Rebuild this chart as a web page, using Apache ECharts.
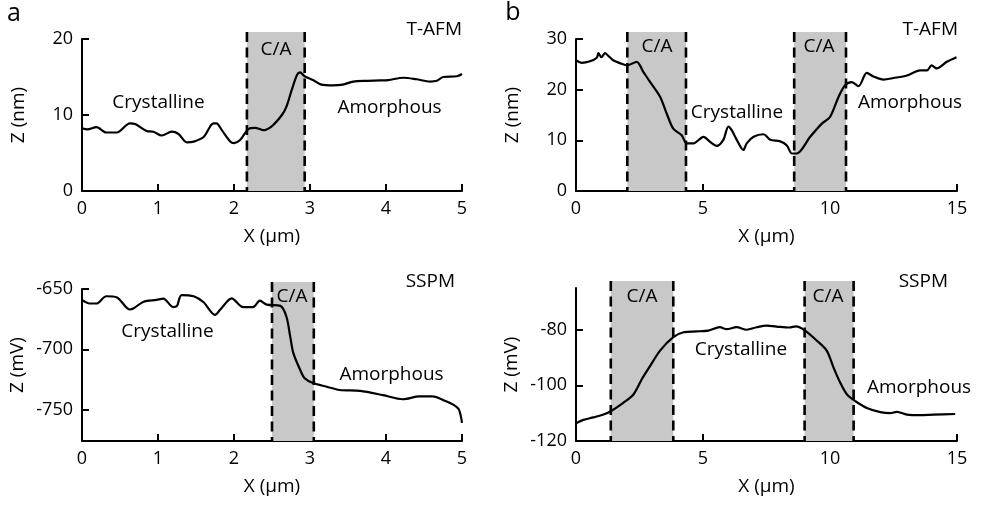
<!DOCTYPE html>
<html>
<head>
<meta charset="utf-8">
<script src="https://cdn.jsdelivr.net/npm/echarts@6/dist/echarts.min.js"></script>
<style>
html,body{margin:0;padding:0;background:#fff;}
#chart{width:982px;height:507px;}
</style>
</head>
<body>
<div id="chart"></div>
<script>
// ---------- data ----------
// Panel a, T-AFM (X in µm, Z in nm)
const aTafmX = [0,0.07,0.19,0.32,0.46,0.63,0.70,0.85,0.94,1.05,1.18,1.27,1.38,1.47,1.60,1.73,1.77,1.84,1.95,2.00,2.08,2.19,2.28,2.34,2.38,2.50,2.63,2.69,2.76,2.83,2.87,2.93,3.04,3.15,3.30,3.43,3.57,3.75,3.92,4.03,4.23,4.40,4.58,4.67,4.75,4.93,5.00];
const aTafmZ = [8.25,8.1,8.4,7.7,7.7,8.9,8.8,7.9,7.8,7.3,7.8,7.5,6.4,6.5,7.1,8.9,8.9,8.0,6.5,6.3,6.7,8.15,8.3,8.15,8.0,8.55,10.0,11.1,13.3,15.3,15.6,15.1,14.6,14.0,13.9,14.0,14.4,14.5,14.55,14.6,14.9,14.7,14.4,14.5,15.0,15.1,15.4];
// Panel b, T-AFM
const bTafmX = [0,0.22,0.55,0.82,0.88,1.0,1.14,1.27,1.47,1.80,2.02,2.39,2.65,2.92,3.31,3.57,3.83,4.16,4.36,4.62,5.02,5.28,5.54,5.80,6.00,6.13,6.33,6.59,6.72,6.99,7.38,7.65,8.04,8.30,8.50,8.69,9.22,9.68,10.0,10.34,10.60,10.86,11.12,11.45,11.71,12.11,12.50,13.03,13.55,13.82,14.0,14.2,14.6,14.98];
const bTafmZ = [25.8,25.3,25.6,26.3,27.2,26.4,27.2,26.7,25.8,25.1,24.8,25.5,23.5,21.5,18.6,15.3,12.3,11.0,9.4,9.4,10.7,9.7,8.9,10.1,12.7,12.0,10.1,8.1,9.4,10.7,11.2,10.1,9.8,9.0,7.4,7.4,10.7,13.3,14.6,18.6,20.9,21.5,20.7,23.3,22.6,22.0,22.3,22.8,23.8,23.8,24.8,24.2,25.5,26.4];
// Panel a, SSPM (Z in mV)
const aSspmX = [0,0.10,0.19,0.32,0.46,0.63,0.68,0.81,0.98,1.07,1.20,1.25,1.31,1.47,1.60,1.75,1.82,1.97,2.12,2.25,2.34,2.43,2.61,2.69,2.74,2.78,2.87,2.93,3.04,3.22,3.39,3.66,3.96,4.22,4.44,4.61,4.79,4.89,4.96,5.00];
const aSspmZ = [-659,-662,-662,-656,-657,-667,-666,-660.5,-659,-658,-665,-664,-655,-656,-661,-671.5,-667,-657.7,-665,-665,-659.7,-663,-664,-673,-689.5,-703,-717,-724,-728,-731,-733.7,-734.5,-738,-741.4,-739,-739,-743,-746,-750,-761];
// Panel b, SSPM
const bSspmX = [0,0.29,0.68,1.08,1.37,1.86,2.26,2.59,2.92,3.31,3.83,4.23,4.75,5.21,5.66,5.93,6.32,6.72,7.11,7.50,8.03,8.40,8.66,9.02,9.48,9.87,10.14,10.40,10.67,11.0,11.45,11.98,12.37,12.63,13.03,13.55,14.08,14.93];
const bSspmZ = [-113.6,-112.4,-111.5,-110.5,-109.3,-106.3,-103.3,-97.8,-93,-87.5,-82.7,-80.9,-80.6,-80.3,-79.1,-79.8,-79.1,-80,-79.1,-78.5,-79,-79.2,-78.8,-80.3,-83.9,-87.5,-93.6,-99,-103.3,-105.7,-108.1,-109.6,-110,-109.5,-110.5,-110.7,-110.5,-110.3];
// C/A transition regions [start, end] in µm
const aTafmCA = [[2.17, 2.93]];
const bTafmCA = [[2.02, 4.33], [8.59, 10.63]];
const aSspmCA = [[2.5, 3.05]];
const bSspmCA = [[1.37, 3.83], [9.0, 10.93]];
// tick values
const aXTicks = [0,1,2,3,4,5];
const bXTicks = [0,5,10,15];
const aTafmYTicks = [0,10,20];
const bTafmYTicks = [0,10,20,30];
const aSspmYTicks = [-750,-700,-650];
const bSspmYTicks = [-120,-100,-80];

// ---------- chart ----------
const FONT = '"Open Sans"';
const chart = echarts.init(document.getElementById('chart'), null, {renderer: 'canvas'});
const zip = (xs, ys) => xs.map((x, i) => [x, ys[i]]);

const grids = [
  {left: 82, top: 39, width: 380, height: 152},
  {left: 576, top: 39, width: 381, height: 152},
  {left: 82, top: 289, width: 380, height: 152},
  {left: 576, top: 288, width: 381, height: 153}
];
const axisCommon = {
  axisLine: {show: true, onZero: false, lineStyle: {color: '#000', width: 2}},
  axisTick: {show: true, inside: true, length: 7, lineStyle: {color: '#000', width: 2}},
  axisLabel: {color: '#000', fontFamily: FONT, fontSize: 18},
  splitLine: {show: false},
  nameTextStyle: {color: '#000', fontFamily: FONT, fontSize: 19}
};
function xAxis(gi, max, ticks) {
  return Object.assign({}, axisCommon, {
    type: 'value', gridIndex: gi, min: 0, max: max,
    name: 'X (μm)', nameLocation: 'middle', nameGap: 36,
    axisTick: Object.assign({}, axisCommon.axisTick, {customValues: ticks}),
    axisLabel: Object.assign({}, axisCommon.axisLabel, {customValues: ticks, margin: 9})
  });
}
function yAxis(gi, min, max, ticks, name, gap) {
  return Object.assign({}, axisCommon, {
    type: 'value', gridIndex: gi, min: min, max: max,
    name: name, nameLocation: 'middle', nameGap: gap, nameRotate: 90,
    axisTick: Object.assign({}, axisCommon.axisTick, {customValues: ticks}),
    axisLabel: Object.assign({}, axisCommon.axisLabel, {customValues: ticks, margin: 9})
  });
}
function lineSeries(i, xs, ys) {
  return {
    type: 'line', xAxisIndex: i, yAxisIndex: i, data: zip(xs, ys),
    showSymbol: false, smooth: 0.3, z: 5,
    lineStyle: {color: '#000', width: 2.2}
  };
}
function shadeSeries(i, regions) {
  return {
    type: 'custom', xAxisIndex: i, yAxisIndex: i, data: regions, clip: false, z: 2,
    encode: {x: [0, 1]},
    renderItem: function (params, api) {
      const cs = params.coordSys;
      const x0 = api.coord([api.value(0), 0])[0];
      const x1 = api.coord([api.value(1), 0])[0];
      const top = cs.y - 7;
      const bottom = cs.y + cs.height;
      const dash = {stroke: '#000', lineWidth: 2.6, lineDash: [10, 5.5]};
      return {
        type: 'group',
        children: [
          {type: 'rect', shape: {x: x0, y: top, width: x1 - x0, height: bottom - top}, style: {fill: '#c8c8c8'}},
          {type: 'line', shape: {x1: x0, y1: top, x2: x0, y2: bottom}, style: dash},
          {type: 'line', shape: {x1: x1, y1: top, x2: x1, y2: bottom}, style: dash}
        ]
      };
    }
  };
}
function txt(s, x, y, align, size) {
  return {type: 'text', x: x, y: y, z: 20,
    style: {text: s, fill: '#000', font: (size || 19) + 'px ' + FONT, align: align || 'center', verticalAlign: 'middle'}};
}

const option = {
  animation: false,
  backgroundColor: '#fff',
  grid: grids,
  xAxis: [xAxis(0, 5, aXTicks), xAxis(1, 15, bXTicks), xAxis(2, 5, aXTicks), xAxis(3, 15, bXTicks)],
  yAxis: [
    yAxis(0, 0, 20, aTafmYTicks, 'Z (nm)', 54),
    yAxis(1, 0, 30, bTafmYTicks, 'Z (nm)', 54),
    yAxis(2, -776, -650, aSspmYTicks, 'Z (mV)', 55),
    yAxis(3, -120, -65, bSspmYTicks, 'Z (mV)', 55)
  ],
  series: [
    shadeSeries(0, aTafmCA), shadeSeries(1, bTafmCA), shadeSeries(2, aSspmCA), shadeSeries(3, bSspmCA),
    lineSeries(0, aTafmX, aTafmZ), lineSeries(1, bTafmX, bTafmZ), lineSeries(2, aSspmX, aSspmZ), lineSeries(3, bSspmX, bSspmZ)
  ],
  graphic: [
    txt('a', 14, 14, 'center', 25), txt('b', 513, 13, 'center', 25),
    txt('T-AFM', 462, 30, 'right'), txt('C/A', 276, 50),
    txt('Crystalline', 158.5, 103), txt('Amorphous', 389.5, 108),
    txt('T-AFM', 958, 30, 'right'), txt('C/A', 657, 47), txt('C/A', 819, 47),
    txt('Crystalline', 737, 113), txt('Amorphous', 910, 103),
    txt('SSPM', 455, 282, 'right'), txt('C/A', 292, 297),
    txt('Crystalline', 167.5, 332), txt('Amorphous', 391.5, 375),
    txt('SSPM', 948, 282, 'right'), txt('C/A', 642, 297), txt('C/A', 828, 297),
    txt('Crystalline', 741, 350), txt('Amorphous', 919, 388)
  ]
};
chart.setOption(option);
</script>
</body>
</html>
